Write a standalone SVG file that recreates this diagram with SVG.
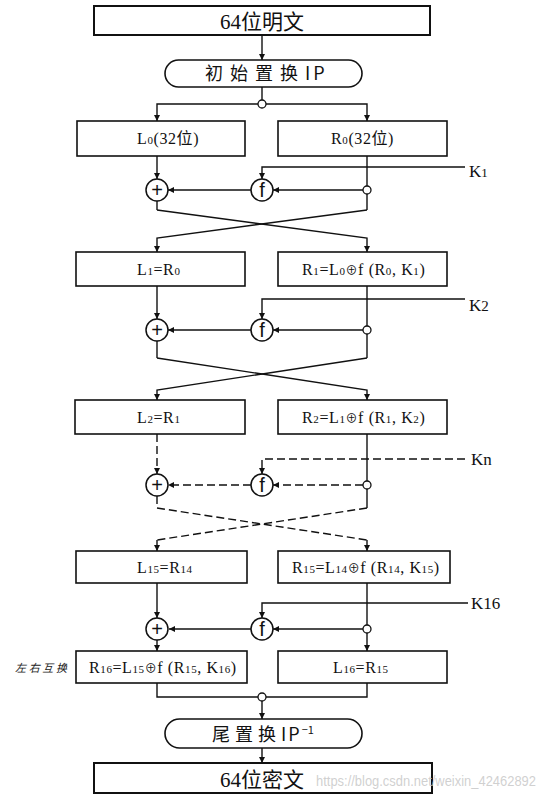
<svg xmlns="http://www.w3.org/2000/svg" width="546" height="800" viewBox="0 0 546 800">
<style>
.box{fill:#fff;stroke:#111;stroke-width:1.6}
.bold{stroke-width:2}
.st{fill:#fff;stroke:#111;stroke-width:1.6}
.ln{fill:none;stroke:#111;stroke-width:1.4}
.ds{stroke-dasharray:8 4}
.j{fill:#fff;stroke:#111;stroke-width:1.3}
.op{fill:#fff;stroke:#111;stroke-width:1.5}
.t{font-family:"Liberation Serif","Noto Sans CJK SC",serif;font-size:16px;fill:#111;letter-spacing:0.6px}
.big{font-family:"Liberation Serif","Noto Sans CJK SC",serif;font-size:21px;fill:#111}
.sd{font-family:"Noto Sans CJK SC","Liberation Sans",sans-serif;font-size:18px;fill:#111}
.k{font-family:"Liberation Serif",serif;font-size:17px;fill:#111}
.sym{font-family:"Liberation Sans","DejaVu Sans",sans-serif;font-size:20px;fill:#111;text-anchor:middle}
.sub{font-size:11px}
</style>
<defs>
<marker id="a" viewBox="0 0 10 10" refX="10" refY="5" markerWidth="7" markerHeight="6" orient="auto" markerUnits="userSpaceOnUse">
<path d="M0,0 L10,5 L0,10 z" fill="#111"/>
</marker>
</defs>
<g id="connectors">
<path class="ln" d="M262,35 V60" marker-end="url(#a)"/>
<path class="ln" d="M262,87 V100"/>
<path class="ln" d="M258,104 H157 V121" marker-end="url(#a)"/>
<path class="ln" d="M266,104 H367 V121" marker-end="url(#a)"/>
<path class="ln" d="M157,156 V179" marker-end="url(#a)"/>
<path class="ln" d="M465,167 H262 V179" marker-end="url(#a)"/>
<path class="ln" d="M367,156 V186"/>
<path class="ln" d="M367,194 V210"/>
<path class="ln" d="M363,190 H273" marker-end="url(#a)"/>
<path class="ln" d="M251,190 H168" marker-end="url(#a)"/>
<path class="ln" d="M157,201 V210"/>
<path class="ln" d="M157,210 L367,238 V252" marker-end="url(#a)"/>
<path class="ln" d="M367,210 L157,238 V252" marker-end="url(#a)"/>
<path class="ln" d="M157,286 V319" marker-end="url(#a)"/>
<path class="ln" d="M465,299 H262 V319" marker-end="url(#a)"/>
<path class="ln" d="M367,286 V326"/>
<path class="ln" d="M367,334 V358"/>
<path class="ln" d="M363,330 H273" marker-end="url(#a)"/>
<path class="ln" d="M251,330 H168" marker-end="url(#a)"/>
<path class="ln" d="M157,341 V358"/>
<path class="ln" d="M157,358 L367,390 V400" marker-end="url(#a)"/>
<path class="ln" d="M367,358 L157,390 V400" marker-end="url(#a)"/>
<path class="ln ds" d="M157,434 V474" marker-end="url(#a)"/>
<path class="ln ds" d="M465,459 H262 V474" marker-end="url(#a)"/>
<path class="ln" d="M367,434 V481"/>
<path class="ln" d="M367,489 V508"/>
<path class="ln ds" d="M363,485 H273" marker-end="url(#a)"/>
<path class="ln ds" d="M251,485 H168" marker-end="url(#a)"/>
<path class="ln ds" d="M157,496 V508"/>
<path class="ln ds" d="M157,508 L367,540"/>
<path class="ln ds" d="M367,508 L157,540"/>
<path class="ln" d="M367,540 V551" marker-end="url(#a)"/>
<path class="ln" d="M157,540 V551" marker-end="url(#a)"/>
<path class="ln" d="M157,583 V618" marker-end="url(#a)"/>
<path class="ln" d="M468,603 H262 V618" marker-end="url(#a)"/>
<path class="ln" d="M367,583 V625"/>
<path class="ln" d="M367,633 V651" marker-end="url(#a)"/>
<path class="ln" d="M363,629 H273" marker-end="url(#a)"/>
<path class="ln" d="M251,629 H169" marker-end="url(#a)"/>
<path class="ln" d="M157,640 V651" marker-end="url(#a)"/>
<path class="ln" d="M157,683 V697 H258"/>
<path class="ln" d="M367,683 V697 H266"/>
<path class="ln" d="M262,701 V719" marker-end="url(#a)"/>
<path class="ln" d="M262,748 V763" marker-end="url(#a)"/>
<circle class="j" cx="262" cy="104" r="4"/>
<circle class="j" cx="367" cy="190" r="4"/>
<circle class="j" cx="367" cy="330" r="4"/>
<circle class="j" cx="367" cy="485" r="4"/>
<circle class="j" cx="367" cy="629" r="4"/>
<circle class="j" cx="262" cy="697" r="4"/>
</g>
<g id="plaintext">
<rect class="box bold" x="94" y="6" width="336" height="29"/>
<text class="big" x="262" y="29" text-anchor="middle">64位明文</text>
</g>
<g id="ip">
<rect class="st" x="165" y="60" width="197" height="27" rx="13.5"/>
<text class="sd" x="205" y="80"><tspan letter-spacing="7">初始置换</tspan><tspan letter-spacing="3">IP</tspan></text>
</g>
<g id="L0">
<rect class="box" x="77" y="121" width="168" height="35"/>
<text class="t" x="137" y="144">L<tspan class="sub">0</tspan>(32位)</text>
</g>
<g id="R0">
<rect class="box" x="278" y="121" width="169" height="35"/>
<text class="t" x="331" y="144">R<tspan class="sub">0</tspan>(32位)</text>
</g>
<g id="xor1"><circle class="op" cx="157" cy="190" r="11"/><text class="sym" x="157" y="197">+</text></g>
<g id="f1"><circle class="op" cx="262" cy="190" r="11"/><text class="sym" x="262" y="197">f</text></g>
<g id="K1"><text class="k" x="469" y="177">K<tspan font-size="13">1</tspan></text></g>
<g id="L1">
<rect class="box" x="76" y="252" width="169" height="34"/>
<text class="t" x="137" y="275">L<tspan class="sub">1</tspan>=R<tspan class="sub">0</tspan></text>
</g>
<g id="R1">
<rect class="box" x="278" y="252" width="169" height="34"/>
<text class="t" x="302" y="275">R<tspan class="sub">1</tspan>=L<tspan class="sub">0</tspan><tspan font-size="12">⊕</tspan>f (R<tspan class="sub">0</tspan>, K<tspan class="sub">1</tspan>)</text>
</g>
<g id="xor2"><circle class="op" cx="157" cy="330" r="11"/><text class="sym" x="157" y="337">+</text></g>
<g id="f2"><circle class="op" cx="262" cy="330" r="11"/><text class="sym" x="262" y="337">f</text></g>
<g id="K2"><text class="k" x="469" y="311">K<tspan font-size="15">2</tspan></text></g>
<g id="L2">
<rect class="box" x="75" y="400" width="170" height="34"/>
<text class="t" x="137" y="423">L<tspan class="sub">2</tspan>=R<tspan class="sub">1</tspan></text>
</g>
<g id="R2">
<rect class="box" x="278" y="400" width="169" height="34"/>
<text class="t" x="302" y="423">R<tspan class="sub">2</tspan>=L<tspan class="sub">1</tspan><tspan font-size="12">⊕</tspan>f (R<tspan class="sub">1</tspan>, K<tspan class="sub">2</tspan>)</text>
</g>
<g id="xorn"><circle class="op" cx="157" cy="485" r="11"/><text class="sym" x="157" y="492">+</text></g>
<g id="fn"><circle class="op" cx="262" cy="485" r="11"/><text class="sym" x="262" y="492">f</text></g>
<g id="Kn"><text class="k" x="471" y="465">Kn</text></g>
<g id="L15">
<rect class="box" x="76" y="551" width="171" height="32"/>
<text class="t" x="137" y="573">L<tspan class="sub">15</tspan>=R<tspan class="sub">14</tspan></text>
</g>
<g id="R15">
<rect class="box" x="278" y="551" width="172" height="32"/>
<text class="t" x="292" y="573">R<tspan class="sub">15</tspan>=L<tspan class="sub">14</tspan><tspan font-size="12">⊕</tspan>f (R<tspan class="sub">14</tspan>, K<tspan class="sub">15</tspan>)</text>
</g>
<g id="xor16"><circle class="op" cx="157" cy="629" r="11"/><text class="sym" x="157" y="636">+</text></g>
<g id="f16"><circle class="op" cx="262" cy="629" r="11"/><text class="sym" x="262" y="636">f</text></g>
<g id="K16"><text class="k" x="471" y="609">K16</text></g>
<g id="R16">
<rect class="box" x="76" y="651" width="171" height="32"/>
<text class="t" x="89" y="673">R<tspan class="sub">16</tspan>=L<tspan class="sub">15</tspan><tspan font-size="12">⊕</tspan>f (R<tspan class="sub">15</tspan>, K<tspan class="sub">16</tspan>)</text>
</g>
<g id="L16">
<rect class="box" x="278" y="651" width="169" height="32"/>
<text class="t" x="333" y="673">L<tspan class="sub">16</tspan>=R<tspan class="sub">15</tspan></text>
</g>
<g id="swap-label"><text x="15" y="672" font-family="Noto Sans CJK SC,sans-serif" font-size="11" font-style="italic" fill="#222" textLength="52" lengthAdjust="spacing">左右互换</text></g>
<g id="ipinv">
<rect class="st" x="165" y="719" width="197" height="29" rx="14.5"/>
<text class="sd" x="212" y="741"><tspan letter-spacing="5">尾置换</tspan><tspan letter-spacing="2">IP</tspan><tspan font-size="11" dy="-7">−1</tspan></text>
</g>
<g id="ciphertext">
<rect class="box bold" x="94" y="763" width="338" height="30"/>
<text class="big" x="262" y="787" text-anchor="middle">64位密文</text>
</g>
<text x="316" y="786" font-family="Liberation Sans,sans-serif" font-size="14" fill="#c8c8c8" fill-opacity="0.85" textLength="220" lengthAdjust="spacingAndGlyphs">https://blog.csdn.net/weixin_42462892</text>
</svg>
